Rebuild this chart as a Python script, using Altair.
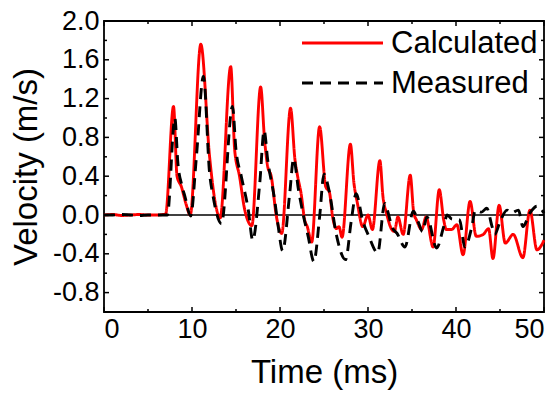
import altair as alt
import pandas as pd

# ---- data ----
series = ["Calculated", "Measured"]

calc_t = [0, 1, 2, 3, 4, 5, 6, 7.0, 7.9, 8.3, 8.8, 9.3, 9.8, 11.0, 12.0, 12.6, 13.2,
          14.4, 14.85, 15.4, 16.0, 16.8, 17.8, 18.25, 18.6, 19.0, 19.6, 20.2,
          21.2, 21.7, 22.0, 22.4, 22.8, 23.1, 23.6, 24.5, 25.2, 25.6, 26.0, 26.4,
          26.7, 27.05, 28.0, 28.4, 28.8, 29.4, 30.0, 30.5, 31.35, 31.7, 32.1,
          32.7, 33.0, 33.4, 34.0, 34.8, 35.2, 35.5, 36.1, 36.6, 37.4, 38.1, 38.6,
          38.9, 39.5, 40.1, 40.8, 41.6, 42.3, 43.1, 43.7, 44.2, 44.9, 45.6, 46.5,
          47.6, 48.4, 49.2, 50.0]
calc_v = [0.0, 0.005, -0.005, 0.0, 0.005, 0.0, 0.0, 0.01, 1.12, 0.40, 0.29, 0.12, 0.0,
          1.76, 0.60, 0.15, -0.03, 1.53, 0.67, 0.40, 0.05, -0.11, 1.32, 0.77, 0.50,
          0.40, -0.02, -0.19, 1.10, 0.57, 0.40, 0.22, -0.05, -0.12, -0.28, 0.91,
          0.29, 0.24, -0.03, -0.14, -0.12, -0.23, 0.73, 0.33, 0.12, -0.12, 0.0,
          -0.15, 0.56, 0.19, 0.02, -0.15, -0.17, -0.02, -0.20, 0.41, 0.02, -0.05,
          -0.15, -0.02, -0.33, 0.26, -0.05, -0.15, -0.15, -0.10, -0.41, 0.14,
          -0.22, -0.20, -0.14, -0.45, 0.10, -0.29, -0.20, -0.44, 0.05, -0.36, -0.26]

meas_t = [0, 1, 2, 3, 4, 5, 6, 7.2, 8.05, 8.4, 8.9, 9.2, 9.85, 10.5, 11.3, 12.0, 12.4,
          13.35, 14.6, 15.0, 15.6, 16.4, 16.9, 17.7, 18.2, 18.6, 19.4, 19.8, 20.3,
          21.1, 21.55, 22.1, 22.6, 23.2, 23.85, 24.5, 25.0, 25.6, 26.4, 27.45,
          28.1, 28.65, 29.4, 30.1, 31.1, 31.9, 32.3, 32.7, 33.3, 34.2, 35.15,
          35.7, 36.2, 36.7, 37.8, 38.6, 39.0, 39.5, 40.4, 41.0, 41.8, 42.2, 42.9,
          43.5, 44.1, 44.4, 45.0, 45.8, 46.3, 47.1, 47.6, 48.4, 49.2, 50.0]
meas_v = [0.0, 0.0, 0.005, 0.0, -0.005, 0.0, 0.0, 0.0, 1.0, 0.53, 0.29, 0.19, -0.01,
          0.6, 1.43, 0.43, 0.19, -0.09, 1.12, 0.67, 0.40, 0.05, -0.26, 0.33, 0.87,
          0.57, 0.15, -0.12, -0.37, 0.22, 0.58, 0.26, 0.02, -0.22, -0.48, -0.02,
          0.42, 0.24, -0.20, -0.46, -0.06, 0.22, -0.06, -0.22, -0.39, 0.12, 0.02,
          -0.12, -0.19, -0.33, 0.04, -0.07, -0.17, -0.02, -0.34, -0.12, 0.0,
          -0.04, -0.05, -0.33, -0.12, 0.05, 0.03, 0.07, -0.12, -0.20, -0.07, 0.05,
          0.02, 0.05, -0.12, 0.02, 0.09, 0.02]

x_major = [0, 10, 20, 30, 40, 50]
x_minor = [5, 15, 25, 35, 45]
y_major = [-0.8, -0.4, 0.0, 0.4, 0.8, 1.2, 1.6, 2.0]
y_minor = [-1.0, -0.6, -0.2, 0.2, 0.6, 1.0, 1.4, 1.8]

# ---- layout ----
W, H = 440, 291
FONT = "Liberation Sans"

df = pd.concat([
    pd.DataFrame({"t": calc_t, "v": calc_v, "series": series[0]}),
    pd.DataFrame({"t": meas_t, "v": meas_v, "series": series[1]}),
], ignore_index=True)

xscale = alt.Scale(domain=[0, 50], nice=False, zero=False)
yscale = alt.Scale(domain=[-1.0, 2.0], nice=False, zero=False)
cscale = alt.Scale(domain=series, range=["#ff0000", "#000000"])
dscale = alt.Scale(domain=series, range=[[1, 0], [11, 7]])

axis_style = dict(labelFont=FONT, titleFont=FONT, labelFontSize=27, titleFontSize=33,
                  labelColor="black", titleColor="black", titleFontWeight="normal",
                  tickSize=0, domain=False, grid=False)

x_axis = alt.Axis(values=x_major, format="d", title="Time (ms)",
                  labelPadding=4, titlePadding=14, **axis_style)
y_axis = alt.Axis(values=y_major, title="Velocity (m/s)",
                  labelExpr="(datum.value < 0 ? '-' : '') + format(abs(datum.value), '.1f')",
                  labelPadding=5, titlePadding=9, **axis_style)

X = lambda: alt.X("t:Q", scale=xscale, axis=x_axis, title="Time (ms)")
Y = lambda: alt.Y("v:Q", scale=yscale, axis=y_axis, title="Velocity (m/s)")

zero_line = alt.Chart(pd.DataFrame({"v": [0.0]})).mark_rule(
    color="black", strokeWidth=1.5
).encode(y=Y())

lines = alt.Chart(df).mark_line(strokeWidth=2.9, interpolate="monotone").encode(
    x=X(), y=Y(),
    color=alt.Color("series:N", scale=cscale, legend=None),
    strokeDash=alt.StrokeDash("series:N", scale=dscale, legend=None),
)


def xticks(vals, length):
    d = pd.DataFrame({"t": vals})
    base = alt.Chart(d).mark_rule(color="black", strokeWidth=1.5)
    bottom = base.encode(x=X(), y=alt.value(H), y2=alt.value(H - length))
    top = base.encode(x=X(), y=alt.value(0), y2=alt.value(length))
    return [bottom, top]


def yticks(vals, length):
    d = pd.DataFrame({"v": vals})
    base = alt.Chart(d).mark_rule(color="black", strokeWidth=1.5)
    left = base.encode(y=Y(), x=alt.value(0), x2=alt.value(length))
    right = base.encode(y=Y(), x=alt.value(W), x2=alt.value(W - length))
    return [left, right]


# manual legend (inside the plot, top right)
legend_layers = []
for i, name in enumerate(series):
    ld = pd.DataFrame({"series": [name]})
    ypos = 22 + 40 * i
    sym = alt.Chart(ld).mark_rule(strokeWidth=2.9).encode(
        x=alt.value(198), x2=alt.value(279), y=alt.value(ypos),
        color=alt.Color("series:N", scale=cscale, legend=None),
        strokeDash=alt.StrokeDash("series:N", scale=dscale, legend=None),
    )
    txt = alt.Chart(ld).mark_text(
        align="left", baseline="middle", font=FONT, fontSize=31, color="black"
    ).encode(x=alt.value(287), y=alt.value(ypos + 1), text="series:N")
    legend_layers += [sym, txt]

layers = [zero_line, lines] + xticks(x_major, 5) + xticks(x_minor, 3) + \
    yticks(y_major, 5) + yticks(y_minor, 3) + legend_layers

chart = alt.layer(*layers).properties(
    width=W, height=H,
    background="white",
    padding={"left": 104, "top": 21, "right": 14, "bottom": 82},
    autosize=alt.AutoSizeParams(type="none"),
).configure_view(
    stroke="black", strokeWidth=1.8
)

chart.save("out.html", embed_options={"renderer": "svg", "actions": False})
